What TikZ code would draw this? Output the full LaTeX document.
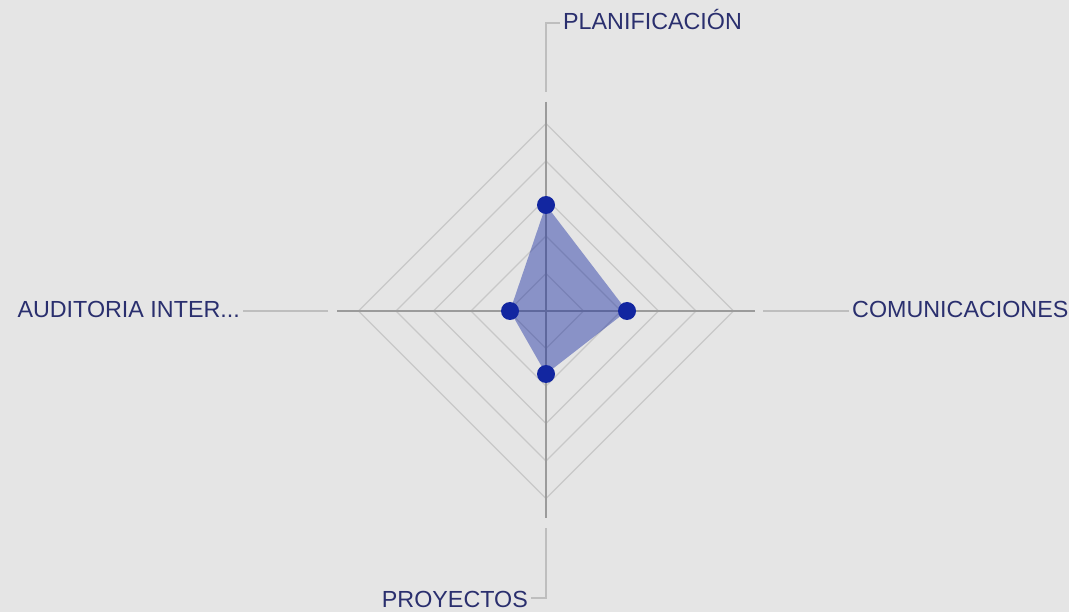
\documentclass[tikz,border=0pt]{standalone}
\usepackage{fontspec}
\setmainfont{Liberation Sans}
\definecolor{bgc}{RGB}{229,229,229}
\definecolor{ringc}{RGB}{200,200,200}
\definecolor{axisc}{RGB}{155,155,155}
\definecolor{leadc}{RGB}{190,190,190}
\definecolor{dotc}{RGB}{18,38,160}
\definecolor{txtc}{RGB}{42,47,110}
\begin{document}
\begin{tikzpicture}[x=1pt,y=-1pt,
  ring/.style={draw=ringc,line width=1.1pt},
  axisline/.style={draw=axisc,line width=2pt},
  leader/.style={draw=leadc,line width=1.8pt},
  lbl/.style={inner sep=0pt,inner xsep=3pt,text=txtc,font=\fontsize{23.3}{27}\selectfont},
  datadot/.style={circle,fill=dotc,inner sep=0pt,minimum size=18pt},
  area/.style={fill=dotc,fill opacity=0.43}]
\fill[bgc] (0,0) rectangle (1069,612);
\useasboundingbox (0,0) rectangle (1069,612);
% rings
\foreach \r in {37.5,75,112.5,150,187.5}
  \draw[ring] (546,311-\r) -- (546+\r,311) -- (546,311+\r) -- (546-\r,311) -- cycle;
% axes
\coordinate (axT) at (546,102);
\coordinate (axB) at (546,518);
\coordinate (axL) at (337,311);
\coordinate (axR) at (755,311);
\draw[axisline] (axT) -- (axB);
\draw[axisline] (axL) -- (axR);
% labels
\node[lbl,anchor=base west] (plan) at (560,30) {PLANIFICACIÓN};
\node[lbl,anchor=base east] (aud) at (243,318) {AUDITORIA INTER...};
\node[lbl,anchor=base west] (com) at (849,318) {COMUNICACIONES};
\node[lbl,anchor=base east] (proy) at (531,607) {PROYECTOS};
% leaders
\coordinate (t1) at (546,92);
\coordinate (t2) at (546,23);
\draw[leader] (t1) -- (t2) -- (t2 -| plan.west);
\coordinate (l1) at (328,311);
\draw[leader] (l1) -- (l1 -| aud.east);
\coordinate (r1) at (763,311);
\draw[leader] (r1) -- (r1 -| com.west);
\coordinate (b1) at (546,528);
\coordinate (b2) at (546,598);
\draw[leader] (b1) -- (b2) -- (b2 -| proy.east);
% data
\coordinate (d1) at (546,205);
\coordinate (d2) at (627,311);
\coordinate (d3) at (546,374);
\coordinate (d4) at (510,311);
\fill[area] (d1) -- (d2) -- (d3) -- (d4) -- cycle;
\node[datadot] (p1) at (d1) {};
\node[datadot] (p2) at (d2) {};
\node[datadot] (p3) at (d3) {};
\node[datadot] (p4) at (d4) {};
\end{tikzpicture}
\end{document}
